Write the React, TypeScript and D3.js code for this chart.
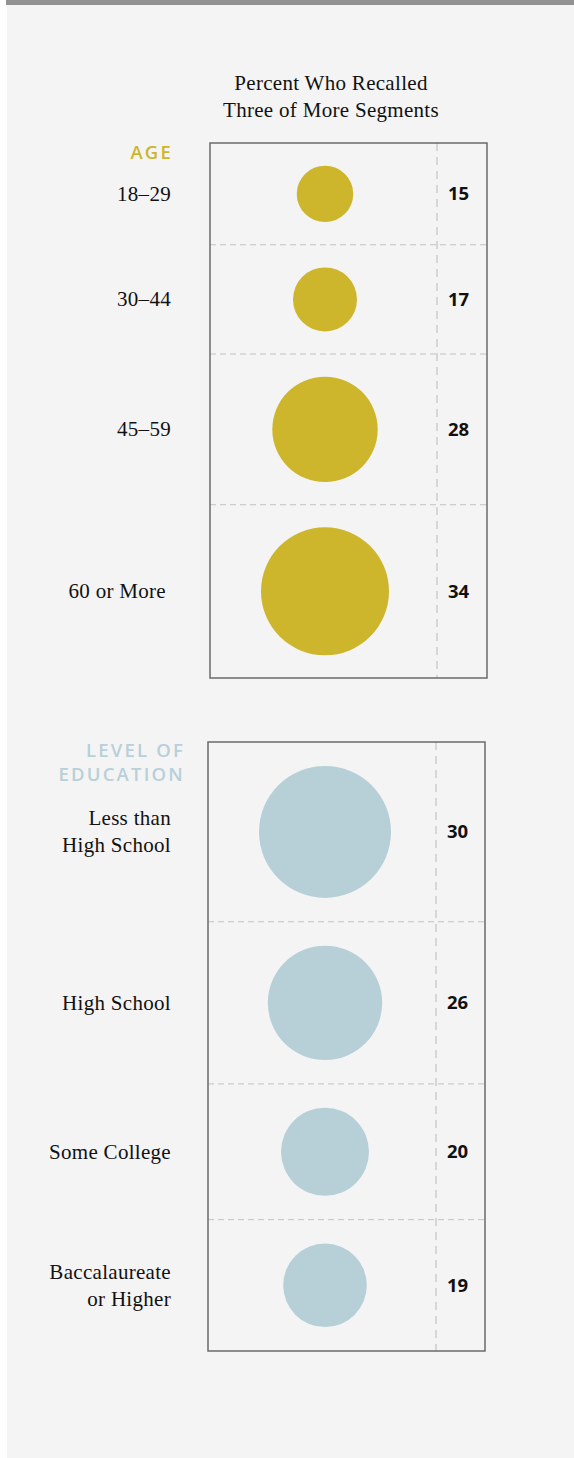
import React from "react";
import * as d3 from "d3";

const titleLines = ["Percent Who Recalled", "Three of More Segments"];

const ageHeader = ["AGE"];
const ageCategories = [["18–29"], ["30–44"], ["45–59"], ["60 or More"]];
const ageValues = [15, 17, 28, 34];

const eduHeader = ["LEVEL OF", "EDUCATION"];
const eduCategories = [["Less than", "High School"], ["High School"], ["Some College"], ["Baccalaureate", "or Higher"]];
const eduValues = [30, 26, 20, 19];

const W = 574;
const H = 1458;
const SERIF = "'Liberation Serif', 'Times New Roman', serif";
const SANS = "'Open Sans', 'Noto Sans', sans-serif";

type PanelProps = {
  header: string[];
  headerColor: string;
  headerX: number;
  headerY: number;
  categories: string[][];
  values: number[];
  color: string;
  x0: number;
  x1: number;
  dashX: number;
  cx: number;
  top: number;
  bottom: number;
  rMax: number;
  labelX: number;
};

function Panel(p: PanelProps) {
  const r = d3.scaleLinear().domain([0, d3.max(p.values) as number]).range([0, p.rMax]);
  const diam = p.values.map((v) => 2 * r(v));
  const pad = (p.bottom - p.top - (d3.sum(diam) as number)) / p.values.length;
  const heights = diam.map((d) => d + pad);
  const ends = Array.from(d3.cumsum(heights)).map((c) => p.top + c);
  const starts = ends.map((e, i) => e - heights[i]);
  const centers = starts.map((s, i) => s + heights[i] / 2);
  const dash = "6 4";
  const dashColor = "#c2c2c2";
  return (
    <g>
      {p.header.map((h, i) => (
        <text
          key={"h" + i}
          x={p.headerX}
          y={p.headerY + i * 24}
          textAnchor="end"
          fontFamily={SANS}
          fontWeight={600}
          fontSize={18.5}
          letterSpacing={2.2}
          fill={p.headerColor}
        >
          {h}
        </text>
      ))}
      {ends.slice(0, -1).map((e, i) => (
        <line key={"s" + i} x1={p.x0} x2={p.x1} y1={e} y2={e} stroke={dashColor} strokeWidth={1} strokeDasharray={dash} />
      ))}
      <line x1={p.dashX} x2={p.dashX} y1={p.top} y2={p.bottom} stroke={dashColor} strokeWidth={1.2} strokeDasharray={"8 6"} />
      <rect x={p.x0} y={p.top} width={p.x1 - p.x0} height={p.bottom - p.top} fill="none" stroke="#6a6a6a" strokeWidth={1.5} />
      {p.values.map((v, i) => (
        <circle key={"c" + i} cx={p.cx} cy={centers[i]} r={r(v)} fill={p.color} />
      ))}
      {p.values.map((v, i) => (
        <text key={"v" + i} x={p.dashX + 11} y={centers[i] + 6.5} fontFamily={SANS} fontWeight={700} fontSize={18.5} fill="#111">
          {v}
        </text>
      ))}
      {p.categories.map((lines, i) => (
        <text key={"l" + i} textAnchor="end" fontFamily={SERIF} fontSize={21} letterSpacing={0.3} fill="#111">
          {lines.map((ln, j) => (
            <tspan key={j} x={p.labelX - (ln === "60 or More" ? 5 : 0)} y={centers[i] + 7 - (lines.length - 1) * 13.5 + j * 27}>
              {ln}
            </tspan>
          ))}
        </text>
      ))}
    </g>
  );
}

export default function App() {
  return (
    <svg
      width={W}
      height={H}
      viewBox={`0 0 ${W} ${H}`}
      style={{ position: "absolute", left: 0, top: 0, display: "block" }}
    >
      <rect x={0} y={0} width={W} height={H} fill="#ffffff" />
      <rect x={7} y={0} width={W - 7} height={H} fill="#f4f4f4" />
      <rect x={6} y={0} width={W - 6} height={5} fill="#929292" />
      {titleLines.map((t, i) => (
        <text key={i} x={331} y={90 + i * 27} textAnchor="middle" fontFamily={SERIF} fontSize={21} letterSpacing={0.3} fill="#111">
          {t}
        </text>
      ))}
      <Panel
        header={ageHeader}
        headerColor="#cdb62c"
        headerX={173}
        headerY={159}
        categories={ageCategories}
        values={ageValues}
        color="#cdb62c"
        x0={210}
        x1={487}
        dashX={437}
        cx={325}
        top={143}
        bottom={678}
        rMax={64}
        labelX={171}
      />
      <Panel
        header={eduHeader}
        headerColor="#b7d0d9"
        headerX={185}
        headerY={757}
        categories={eduCategories}
        values={eduValues}
        color="#b7d0d8"
        x0={208}
        x1={485}
        dashX={436}
        cx={325}
        top={742}
        bottom={1351}
        rMax={66}
        labelX={171}
      />
    </svg>
  );
}
